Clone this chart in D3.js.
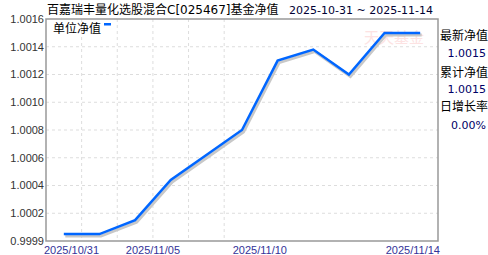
<!DOCTYPE html>
<html>
<head>
<meta charset="utf-8">
<script src="https://cdn.jsdelivr.net/npm/d3@7"></script>
<style>
  body { margin: 0; background: #fff; }
  svg { display: block; }
</style>
</head>
<body>
<svg id="chart"></svg>
<script>
// data
const dates = ["2025/10/31", "2025/11/03", "2025/11/04", "2025/11/05", "2025/11/06", "2025/11/07",
               "2025/11/10", "2025/11/11", "2025/11/12", "2025/11/13", "2025/11/14"];
const navValues = [1.00005, 1.00005, 1.00015, 1.00044, 1.00062, 1.0008, 1.0013, 1.00138, 1.0012, 1.0015, 1.0015];
const yTickValues = [1.0000, 1.0002, 1.0004, 1.0006, 1.0008, 1.0010, 1.0012, 1.0014, 1.0016];
const yTickLabels = ["0.9999", "1.0002", "1.0004", "1.0006", "1.0008", "1.0010", "1.0012", "1.0014", "1.0016"];
const xTickLabels = ["2025/10/31", "2025/11/05", "2025/11/10", "2025/11/14"];
const infoLabels = ["最新净值", "累计净值", "日增长率"];
const infoValues = ["1.0015", "1.0015", "0.00%"];

const W = 488, H = 255;
const plotLeft = 46, plotRight = 438, plotTop = 19, plotBottom = 241;

const svg = d3.select("#chart").attr("width", W).attr("height", H);

const x = d3.scalePoint().domain(dates).range([plotLeft, plotRight]).padding(0.5);
const band = d3.scaleBand().domain(dates).range([plotLeft, plotRight]);
const y = d3.scaleLinear().domain([1.0000, 1.0016]).range([plotBottom, plotTop]);

// grid
svg.append("g").selectAll("line")
    .data(yTickValues.slice(1, -1))
    .join("line")
    .attr("x1", plotLeft).attr("x2", plotRight)
    .attr("y1", d => y(d)).attr("y2", d => y(d))
    .attr("stroke", "#ddd").attr("stroke-dasharray", "3,3");

svg.append("g").selectAll("line")
    .data(dates.slice(1, 6))
    .join("line")
    .attr("x1", d => band(d)).attr("x2", d => band(d))
    .attr("y1", plotTop).attr("y2", plotBottom)
    .attr("stroke", "#ddd").attr("stroke-dasharray", "3,3");

// watermark
svg.append("text")
    .attr("x", 364).attr("y", 43)
    .attr("font-family", "Noto Sans CJK SC")
    .attr("font-size", 15)
    .attr("fill", "#fde2e2")
    .text("天天基金");

// line + shadow
const line = d3.line()
    .x((d, i) => x(dates[i]))
    .y(d => y(d));

svg.append("path")
    .datum(navValues)
    .attr("d", line)
    .attr("transform", "translate(1.5,2)")
    .attr("fill", "none")
    .attr("stroke", "#c8c8c8")
    .attr("stroke-width", 3);

svg.append("path")
    .datum(navValues)
    .attr("d", line)
    .attr("fill", "none")
    .attr("stroke", "#0066ff")
    .attr("stroke-width", 2.5);

// frame
svg.append("rect")
    .attr("x", plotLeft).attr("y", plotTop)
    .attr("width", plotRight - plotLeft).attr("height", plotBottom - plotTop)
    .attr("fill", "none")
    .attr("stroke", "#999")
    .attr("stroke-width", 1.5);

// y labels
svg.append("g").selectAll("text")
    .data(yTickValues)
    .join("text")
    .attr("x", 44)
    .attr("y", d => y(d))
    .attr("dy", "0.35em")
    .attr("text-anchor", "end")
    .attr("font-family", "Liberation Sans, Arial, sans-serif")
    .attr("font-size", 11)
    .attr("fill", "#333")
    .text((d, i) => yTickLabels[i]);

// x labels: first/last pinned to the frame ends, others centred on their day
const nLab = xTickLabels.length;
svg.append("g").selectAll("text")
    .data(xTickLabels)
    .join("text")
    .attr("x", (d, i) => i === 0 ? plotLeft - 2 : i === nLab - 1 ? plotRight + 2 : band(d))
    .attr("y", 254)
    .attr("text-anchor", (d, i) => i === 0 ? "start" : i === nLab - 1 ? "end" : "middle")
    .attr("font-family", "Liberation Sans, Arial, sans-serif")
    .attr("font-size", 11)
    .attr("fill", "#333399")
    .text(d => d);

// title
svg.append("text")
    .attr("x", 47).attr("y", 14)
    .attr("font-family", "DejaVu Sans, Noto Sans CJK SC")
    .attr("font-size", 12)
    .attr("fill", "#000")
    .text("百嘉瑞丰量化选股混合C[025467]基金净值");

svg.append("text")
    .attr("x", 289).attr("y", 14)
    .attr("font-family", "DejaVu Sans, Verdana, sans-serif")
    .attr("font-size", 11)
    .attr("fill", "#000033")
    .text(dates[0].replace(/\//g, "-") + " ~ " + dates[dates.length - 1].replace(/\//g, "-"));

// legend
svg.append("text")
    .attr("x", 53).attr("y", 33)
    .attr("font-family", "Noto Sans CJK SC")
    .attr("font-size", 12)
    .attr("fill", "#000")
    .text("单位净值");
svg.append("rect")
    .attr("x", 104).attr("y", 23)
    .attr("width", 7).attr("height", 2.5)
    .attr("fill", "#0066ff");

// info panel on the right
const infoY = [40, 77, 111];
const valY = [57, 93, 129];
svg.append("g").selectAll("text")
    .data(infoLabels)
    .join("text")
    .attr("x", 440)
    .attr("y", (d, i) => infoY[i])
    .attr("font-family", "Noto Sans CJK SC")
    .attr("font-size", 12)
    .attr("fill", "#000")
    .text(d => d);
svg.append("g").selectAll("text")
    .data(infoValues)
    .join("text")
    .attr("x", 486)
    .attr("y", (d, i) => valY[i])
    .attr("text-anchor", "end")
    .attr("font-family", "DejaVu Sans, Verdana, sans-serif")
    .attr("font-size", 11)
    .attr("fill", "#000066")
    .text(d => d);
</script>
</body>
</html>
